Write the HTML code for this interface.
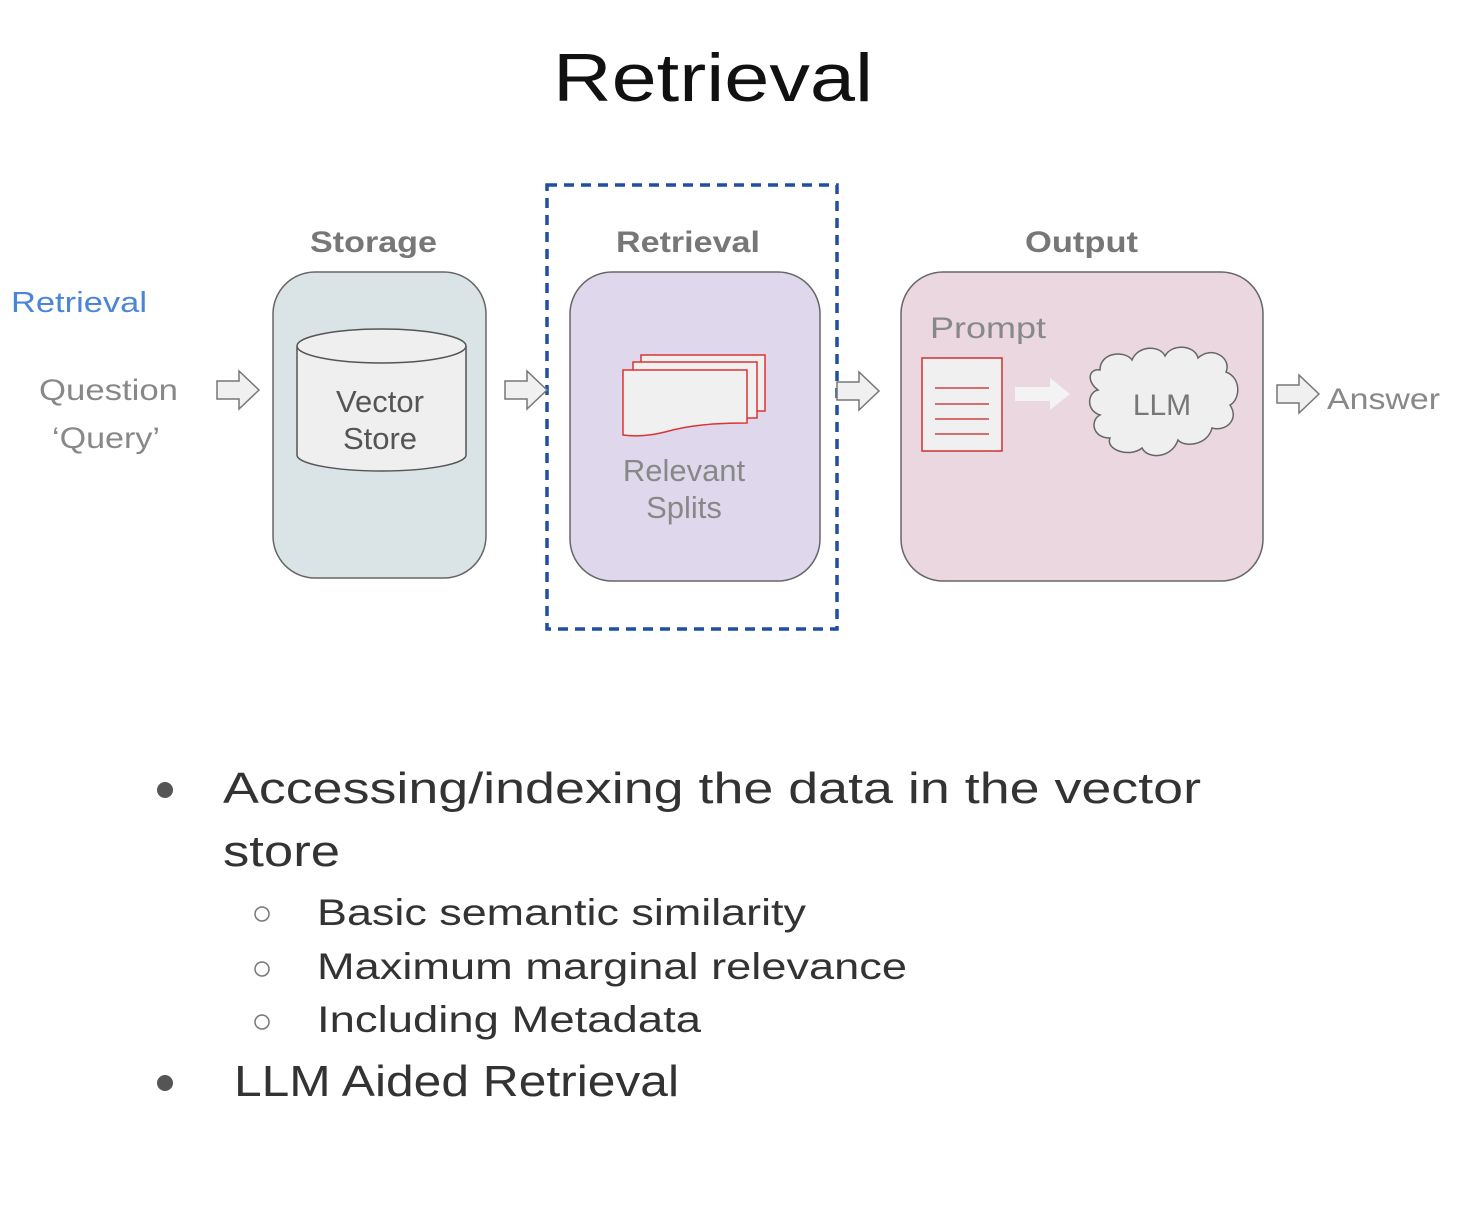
<!DOCTYPE html>
<html><head><meta charset="utf-8"><style>html,body{margin:0;padding:0;background:#fff}svg{display:block}</style></head>
<body>
<svg width="1458" height="1210" viewBox="0 0 1458 1210" xmlns="http://www.w3.org/2000/svg" font-family="Liberation Sans, sans-serif">
<defs>
<g id="arr"><path d="M0,-9 H22 V-19 L42,0 L22,19 V9 H0 Z" fill="#f0f0f0" stroke="#777" stroke-width="1.5"/></g>
</defs>
<text x="553" y="101" font-size="68" fill="#111" textLength="320" lengthAdjust="spacingAndGlyphs">Retrieval</text>

<text x="11" y="312" font-size="29" fill="#4a86d8" textLength="136" lengthAdjust="spacingAndGlyphs">Retrieval</text>
<text x="39" y="400" font-size="30" fill="#888" textLength="139" lengthAdjust="spacingAndGlyphs">Question</text>
<text x="52" y="448" font-size="30" fill="#888" textLength="108" lengthAdjust="spacingAndGlyphs">‘Query’</text>

<text x="310" y="252" font-size="30" font-weight="bold" fill="#777" textLength="127" lengthAdjust="spacingAndGlyphs">Storage</text>
<text x="616" y="252" font-size="30" font-weight="bold" fill="#777" textLength="144" lengthAdjust="spacingAndGlyphs">Retrieval</text>
<text x="1025" y="252" font-size="30" font-weight="bold" fill="#777" textLength="113" lengthAdjust="spacingAndGlyphs">Output</text>

<rect x="273" y="272" width="213" height="306" rx="42" fill="#dae3e5" stroke="#666" stroke-width="1.5"/>
<rect x="570" y="272" width="250" height="309" rx="42" fill="#dfd8ec" stroke="#666" stroke-width="1.5"/>
<rect x="901" y="272" width="362" height="309" rx="42" fill="#ead7e0" stroke="#666" stroke-width="1.5"/>

<rect x="547" y="185" width="290" height="444" fill="none" stroke="#1f4fa0" stroke-width="3.5" stroke-dasharray="10,7"/>

<!-- arrows -->
<use href="#arr" x="217" y="390"/>
<use href="#arr" x="505" y="390"/>
<use href="#arr" x="837" y="391"/>
<use href="#arr" x="1277" y="394"/>

<!-- cylinder -->
<path d="M297,346 V455 A84.5,16 0 0 0 466,455 V346" fill="#efefef" stroke="#555" stroke-width="1.5"/>
<ellipse cx="381.5" cy="346" rx="84.5" ry="17" fill="#efefef" stroke="#555" stroke-width="1.5"/>
<text x="380" y="412" font-size="31" fill="#555" text-anchor="middle">Vector</text>
<text x="380" y="449" font-size="31" fill="#555" text-anchor="middle">Store</text>

<!-- splits -->
<rect x="641" y="355" width="124" height="56" fill="#f0f0f0" stroke="#d33" stroke-width="1.5"/>
<rect x="633" y="362" width="124" height="56" fill="#f0f0f0" stroke="#d33" stroke-width="1.5"/>
<path d="M623,370 H747 V423 C715,423 690,425 665,432 C645,437 630,436 623,435 Z" fill="#f0f0f0" stroke="#d33" stroke-width="1.5"/>
<text x="684" y="481" font-size="31" fill="#888" text-anchor="middle">Relevant</text>
<text x="684" y="518" font-size="31" fill="#888" text-anchor="middle">Splits</text>

<!-- output -->
<text x="930" y="338" font-size="30" fill="#888" textLength="116" lengthAdjust="spacingAndGlyphs">Prompt</text>
<rect x="922" y="358" width="80" height="93" fill="#f0f0f0" stroke="#c33" stroke-width="1.5"/>
<g stroke="#c44" stroke-width="1.5"><line x1="935" y1="388" x2="989" y2="388"/><line x1="935" y1="404" x2="989" y2="404"/><line x1="935" y1="419" x2="989" y2="419"/><line x1="935" y1="434" x2="989" y2="434"/></g>
<path d="M1015,387 H1050 V378 L1070,394 L1050,410 V401 H1015 Z" fill="#f3f3f3"/>
<path d="M1100,370 C1100,352 1125,350 1132,360 C1138,345 1160,345 1165,356 C1172,343 1195,345 1198,358 C1212,345 1232,358 1226,372 C1242,378 1240,400 1230,405 C1240,420 1225,432 1212,428 C1208,445 1185,448 1178,440 C1172,458 1148,460 1142,448 C1130,458 1105,450 1110,438 C1092,438 1090,420 1100,415 C1085,410 1088,392 1098,390 C1085,380 1090,368 1100,370 Z" fill="#efefef" stroke="#666" stroke-width="1.5"/>
<text x="1162" y="415" font-size="30" fill="#777" text-anchor="middle">LLM</text>
<text x="1327" y="409" font-size="30" fill="#888" textLength="113" lengthAdjust="spacingAndGlyphs">Answer</text>

<!-- bullets -->
<circle cx="165" cy="790" r="8" fill="#555"/>
<text x="223" y="803" font-size="44" fill="#333" textLength="978" lengthAdjust="spacingAndGlyphs">Accessing/indexing the data in the vector</text>
<text x="223" y="866" font-size="44" fill="#333" textLength="117" lengthAdjust="spacingAndGlyphs">store</text>
<g fill="none" stroke="#777" stroke-width="1.5"><circle cx="262" cy="914" r="7"/><circle cx="262" cy="969" r="7"/><circle cx="262" cy="1022" r="7"/></g>
<text x="317" y="925" font-size="37" fill="#333" textLength="489" lengthAdjust="spacingAndGlyphs">Basic semantic similarity</text>
<text x="317" y="979" font-size="37" fill="#333" textLength="590" lengthAdjust="spacingAndGlyphs">Maximum marginal relevance</text>
<text x="317" y="1032" font-size="37" fill="#333" textLength="384" lengthAdjust="spacingAndGlyphs">Including Metadata</text>
<circle cx="165" cy="1083" r="8" fill="#555"/>
<text x="234" y="1096" font-size="44" fill="#333" textLength="445" lengthAdjust="spacingAndGlyphs">LLM Aided Retrieval</text>
</svg>
</body></html>
